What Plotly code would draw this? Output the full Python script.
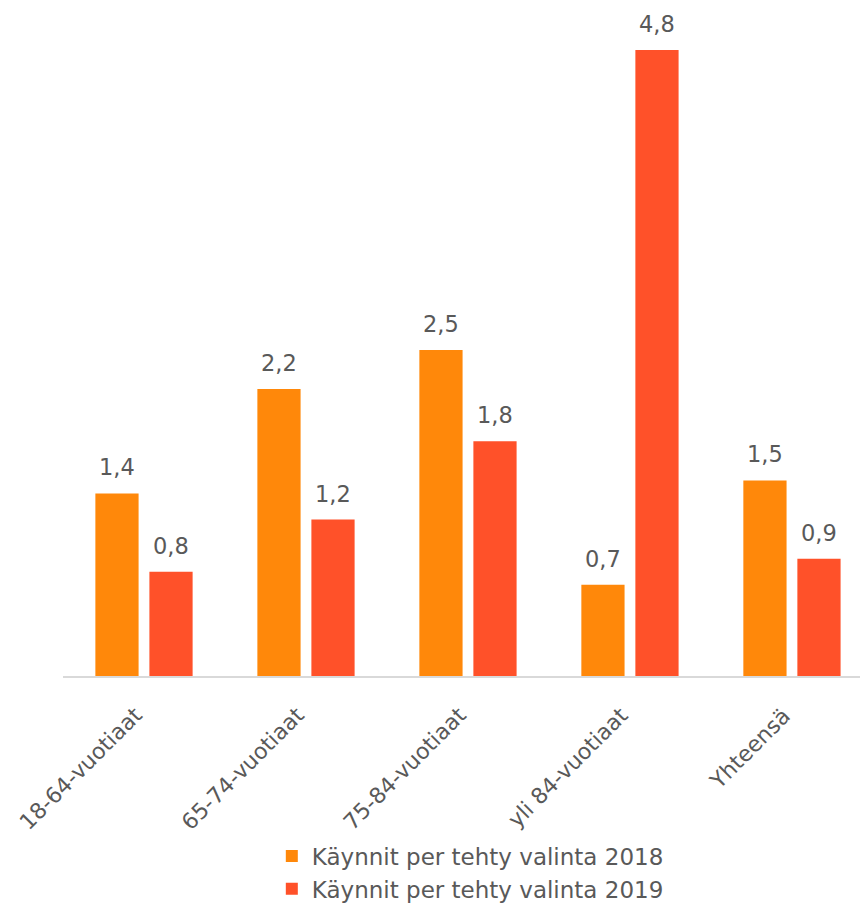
import plotly.graph_objects as go

categories = ["18-64-vuotiaat", "65-74-vuotiaat", "75-84-vuotiaat", "yli 84-vuotiaat", "Yhteensä"]
values_2018 = [1.4, 2.2, 2.5, 0.7, 1.5]
values_2019 = [0.8, 1.2, 1.8, 4.8, 0.9]
series_names = ["Käynnit per tehty valinta 2018", "Käynnit per tehty valinta 2019"]
colors = ["#FF880A", "#FF5129"]

text_color = "#595959"
font_family = "DejaVu Sans, sans-serif"
font_size = 22.5

fig = go.Figure()
for name, vals, col in zip(series_names, [values_2018, values_2019], colors):
    fig.add_trace(go.Bar(
        x=categories, y=vals, name=name,
        marker=dict(color=col, line=dict(width=0)),
    ))

# value labels above each bar, shifted to the dodged bar position
for vals, shift in [(values_2018, -27), (values_2019, 27)]:
    for cat, v in zip(categories, vals):
        fig.add_annotation(
            x=cat, y=v, xref="x", yref="y",
            text=f"{v:.1f}".replace(".", ","),
            showarrow=False, xshift=shift, yshift=11, yanchor="bottom",
            font=dict(size=font_size, color=text_color, family=font_family),
        )

# slanted category labels below the axis
for cat in categories:
    fig.add_annotation(
        x=cat, y=0, xref="x", yref="y", text=cat, textangle=-45,
        showarrow=False, xanchor="right", yanchor="top", xshift=6, yshift=-24,
        font=dict(size=22, color=text_color, family=font_family),
    )

fig.update_layout(
    width=860, height=903,
    margin=dict(l=63, r=0, t=24, b=227, autoexpand=False),
    paper_bgcolor="white", plot_bgcolor="white",
    barmode="group", bargap=0.333, bargroupgap=0.2,
    font=dict(family=font_family, size=font_size, color=text_color),
    showlegend=True,
    legend=dict(
        orientation="v", x=0.262, xanchor="left", y=-0.243, yanchor="top",
        font=dict(size=23, color=text_color), tracegroupgap=4,
        bgcolor="rgba(0,0,0,0)",
    ),
    xaxis=dict(
        range=[-0.5, 4.42], showgrid=False, automargin=False,
        showline=True, linecolor="#D9D9D9", linewidth=2,
        ticks="", showticklabels=False,
    ),
    yaxis=dict(range=[0, 5.0], visible=False, showgrid=False, zeroline=False,
               automargin=False),
)

fig.write_html("out.html")
